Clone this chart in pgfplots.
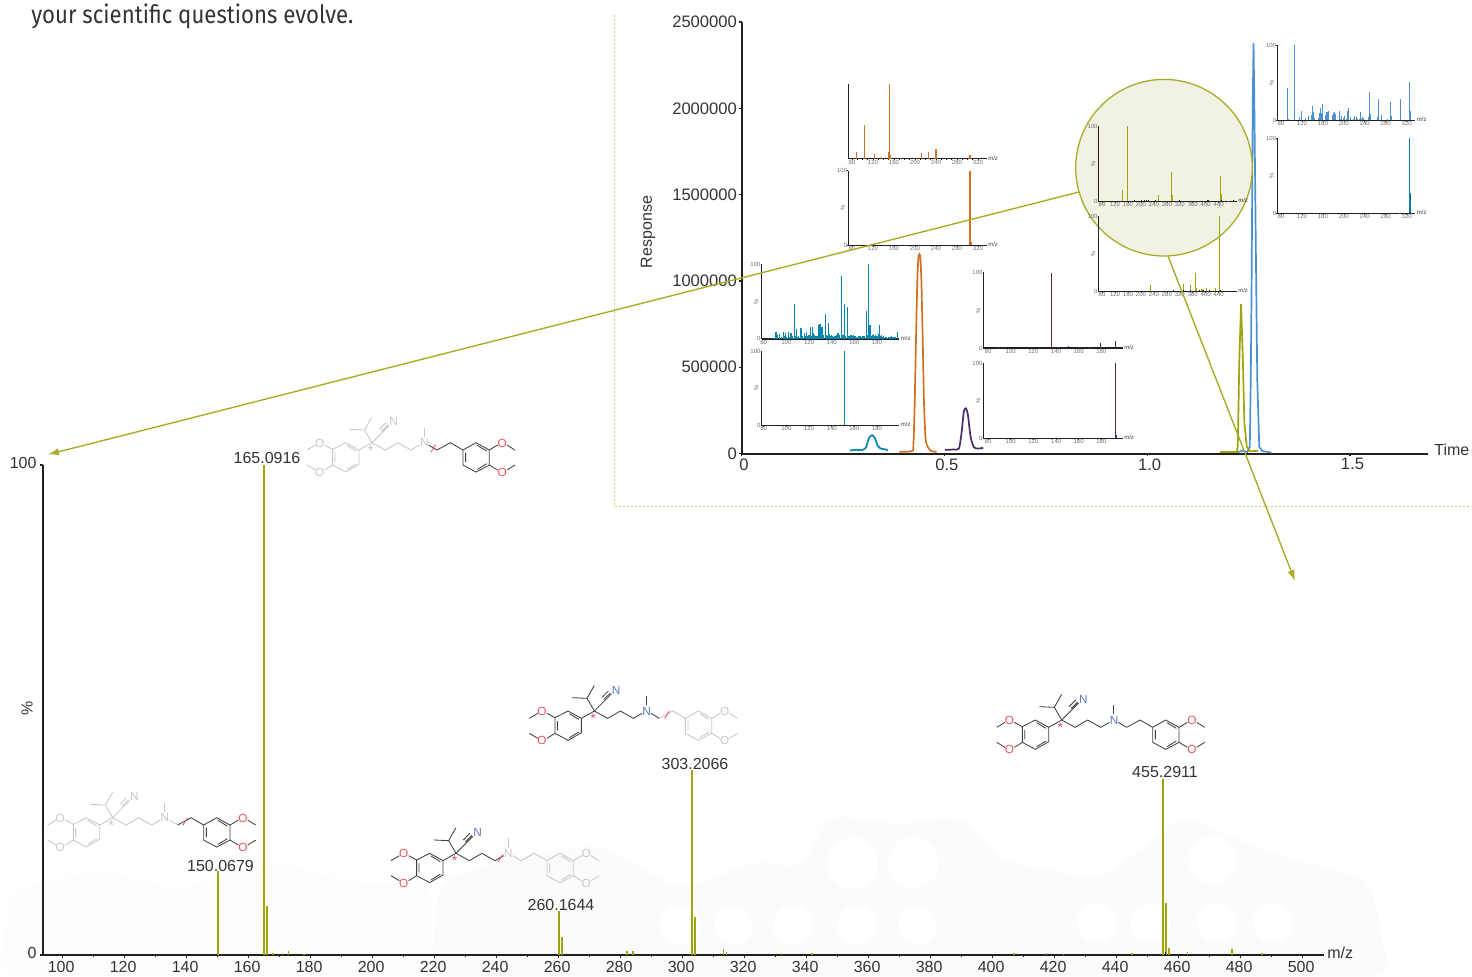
\documentclass[border=0pt]{standalone}
\usepackage{fontspec}
\setmainfont{Liberation Sans}
\newfontfamily\headfont{Fira Sans}
\usepackage{pgfplots}
\pgfplotsset{compat=1.18}
\usetikzlibrary{arrows.meta}
\definecolor{dk}{HTML}{3F3F3F}
\definecolor{gr}{HTML}{C6C6C6}
\definecolor{molred}{HTML}{F0505A}
\definecolor{molblue}{HTML}{5F78C0}
\definecolor{axc}{HTML}{231F20}
\definecolor{txt}{HTML}{333333}
\definecolor{olive}{HTML}{9EA40A}
\definecolor{oliveL}{HTML}{A8AD28}
\definecolor{orng}{HTML}{CF7120}
\definecolor{teal}{HTML}{0587AD}
\definecolor{purp}{HTML}{4B2B68}
\definecolor{blu}{HTML}{4A90D2}
\definecolor{tealb}{HTML}{0A7AA6}
\definecolor{insl}{HTML}{6F6F6F}
\definecolor{circf}{HTML}{F1F2E3}
\definecolor{wmL}{HTML}{FDFDFB}
\definecolor{wmR}{HTML}{FAFBFD}

\pgfplotsset{
 ins/.style={scale only axis, axis lines=left, axis line style={-,axc,line width=.55pt},
  clip=false, ymin=0,ymax=100, ytick={0,100},
  tick style={axc,line width=.3pt}, major tick length=.6pt, minor tick length=.5pt,
  tick align=outside,
  tick label style={font=\fontsize{3}{3}\selectfont,text=insl,inner sep=.3pt},
  xticklabel style={yshift=.5pt}, yticklabel style={xshift=.5pt},
  /pgf/number format/assume math mode=true, /pgf/number format/1000 sep={}},
 s40/.style={xtick={80,120,...,320},minor x tick num=3},
 s20/.style={xtick={80,100,...,180},minor x tick num=3},
 s40o/.style={xtick={80,120,...,440},minor x tick num=0},
}
\newcommand{\pct}{\node[anchor=south,rotate=90,font=\fontsize{3}{3}\selectfont,text=insl,inner sep=0pt,yshift=1.5pt] at (rel axis cs:0,0.5) {\%};}
\newcommand{\inset}[8]{%
 \pgfmathsetmacro{\insw}{(#2-#1)*0.5}\pgfmathsetmacro{\insh}{(#3-#4)*0.5}%
 \pgfmathsetmacro{\insx}{#1*0.5}\pgfmathsetmacro{\insy}{-#3*0.5}%
 \begin{axis}[ins,at={(\insx pt,\insy pt)},anchor=south west,width=\insw pt,height=\insh pt,xmin=#5,xmax=#6,#7]
 #8
 \node[anchor=west,font=\fontsize{3}{3}\selectfont,text=dk,inner sep=.6pt] at (rel axis cs:1,0.01) {m/z};
 \end{axis}}
\newcommand{\bars}[2]{\addplot[ycomb,color=#1,line width=.6pt,no marks] coordinates {#2};}
\newcommand{\barsk}[1]{\addplot[ycomb,color=axc,line width=.5pt,no marks] coordinates {#1};}

\newcommand\setgrp[2]{\ifnum#2=1 \colorlet{#1b}{dk}\colorlet{#1h}{molred}\colorlet{#1n}{molblue}\else \colorlet{#1b}{gr}\colorlet{#1h}{gr}\colorlet{#1n}{gr}\fi}
\newcommand\mol[9]{%
 \setgrp{A}{#3}\setgrp{B}{#4}\setgrp{C}{#5}\setgrp{E}{#6}\setgrp{D}{#7}%
 \begin{scope}[shift={(#1*0.5pt,-#2*0.5pt)},x=0.16667pt,y=-0.16667pt,line width=.42pt,
   lab/.style={font=\fontsize{5.9}{6}\selectfont,inner sep=0pt}]
 \draw[Ab] (127,140)--(166,120)--(206,142)--(206,185)--(166,208)--(127,187)--cycle;
 \draw[Ab] (134,150)--(134,178) (170,128)--(198,145) (170,200)--(198,183);
 \draw[Ab] (127,140)--(103,127) (75,127)--(50,142) (127,187)--(103,202) (75,202)--(50,187);
 \node[lab,text=Ah] at (88,121) {O}; \node[lab,text=Ah] at (88,209) {O};
 \draw[Ab] (206,142)--(245,120)--(223,82)--(178,80) (223,82)--(245,43);
 \draw[Ab] (245,120)--(296,69) (273,86)--(293,66) (267,80)--(287,60);
 \node[lab,text=An] at (310,57) {N};
 \node[lab,text=Ah,font=\fontsize{7}{7}\selectfont] at (241,143) {*};
 \draw[Bb] (245,120)--(285,142)--(323,120)--(362,142)--(388,127);
 \node[lab,text=Cn] at (402,120) {N};
 \draw[Cb] (401,103)--(401,75);
 \draw[Eb] (415,127)--(440,142);
 \draw[Db] (440,142)--(480,120)--(518,142);
 \draw[Db] (518,142)--(557,120)--(597,142)--(597,187)--(557,208)--(518,187)--cycle;
 \draw[Db] (526,150)--(526,178) (561,128)--(589,145) (561,200)--(589,183);
 \draw[Db] (597,142)--(622,127) (650,127)--(674,142) (597,187)--(622,202) (650,202)--(674,187);
 \node[lab,text=Dh] at (636,121) {O}; \node[lab,text=Dh] at (636,209) {O};
 \ifnum#8>0 \draw[molred] (#8-7,#9+11)--(#8+7,#9-11);\fi
 \end{scope}}

\begin{document}
\begin{tikzpicture}
\path[use as bounding box] (0,0) rectangle (736pt,-488pt);

% faint watermark
\begin{scope}[x=0.5pt,y=-0.5pt]
 \fill[rounded corners=8pt,color=wmL] (0,976)--(10,890)--(100,870)--(180,890)--(270,860)--(360,885)--(430,880)--(430,976)--cycle;
 \fill[rounded corners=8pt,color=wmR] (430,976)--(440,880)--(520,855)--(600,845)--(680,890)--(760,860)--(800,870)--(830,815)--(900,825)--(960,815)--(1000,860)--(1100,880)--(1185,815)--(1260,850)--(1370,880)--(1390,976)--cycle;
 \fill[white] (853,863) circle (26) (913,863) circle (26) (680,925) circle (20) (733,925) circle (20) (793,925) circle (20) (857,925) circle (20) (917,925) circle (20) (1097,923) circle (20) (1150,923) circle (20) (1217,923) circle (20) (1273,923) circle (20) (1213,860) circle (24);
 \draw[color=oliveL!60!white,line width=.5pt,dash pattern=on 1pt off 1pt] (614,15)--(614,506)--(1470,506);
 \node[anchor=base west,inner sep=0pt,text=txt,xscale=.88,font=\headfont\fontsize{12.6}{13}\selectfont] at (31,23) {your scientific questions evolve.};
 \node[anchor=west,inner sep=0pt,text=txt,font=\fontsize{8}{9}\selectfont] at (1434,450) {Time};
 \node[rotate=90,inner sep=0pt,text=txt,font=\fontsize{8}{9}\selectfont] at (648,232) {Response};
 \node[anchor=west,inner sep=0pt,text=txt,font=\fontsize{8}{9}\selectfont] at (1327,953) {m/z};
 \node[rotate=90,inner sep=0pt,text=txt,font=\fontsize{8}{9}\selectfont] at (27,708) {\%};
 \node[inner sep=0pt,text=txt,font=\fontsize{8}{9}\selectfont] at (267,458) {165.0916};
 \node[inner sep=0pt,text=txt,font=\fontsize{8}{9}\selectfont] at (220.5,866) {150.0679};
 \node[inner sep=0pt,text=txt,font=\fontsize{8}{9}\selectfont] at (561,905) {260.1644};
 \node[inner sep=0pt,text=txt,font=\fontsize{8}{9}\selectfont] at (695,764) {303.2066};
 \node[inner sep=0pt,text=txt,font=\fontsize{8}{9}\selectfont] at (1165,772) {455.2911};
\end{scope}

% chromatogram
\begin{axis}[scale only axis,at={(370.85pt,-226.75pt)},anchor=south west,width=343.3pt,height=215.75pt,
 xmin=0,xmax=1.693,ymin=0,ymax=2500000,axis lines=left,axis line style={-,axc,line width=1pt},clip=false,
 scaled y ticks=false,
 xtick={0,0.5,1,1.5},xticklabels={0,0.5,1.0,1.5},
 ytick={0,500000,1000000,1500000,2000000,2500000},yticklabels={0,500000,1000000,1500000,2000000,2500000},
 tick style={axc,line width=.6pt},major tick length=1.4pt,tick align=outside,
 tick label style={font=\fontsize{8.3}{9}\selectfont,text=txt,inner sep=0pt},
 xticklabel style={yshift=-.9pt,xshift=1.2pt},yticklabel style={xshift=-.8pt},
 /pgf/number format/assume math mode=true]
 \addplot[color=teal,line width=.85pt,smooth,tension=.4,no marks] coordinates {(.2666,17400)(.283,21400)(.2953,19300)(.3059,32800)(.314,90800)(.3214,106000)(.328,90800)(.3362,42200)(.3445,27200)(.3568,23100)(.360,15600)};
 \addplot[color=orng,line width=.85pt,smooth,tension=.4,no marks] coordinates {(.3889,9600)(.4192,13500)(.4233,42400)(.4266,293000)(.4299,679000)(.4331,1007000)(.4356,1132000)(.4381,1155000)(.4405,1132000)(.443,1007000)(.4462,679000)(.4495,293000)(.4536,81000)(.4602,32800)(.4684,13500)(.4807,9600)};
 \addplot[color=purp,line width=.85pt,smooth,tension=.4,no marks] coordinates {(.5011,21200)(.5217,23100)(.5356,28900)(.5421,119600)(.5478,245000)(.5528,262000)(.5577,225700)(.5642,100000)(.5724,36600)(.5831,28900)(.5954,32800)};
 \addplot[color=blu,line width=.85pt,no marks] coordinates {(1.2219,5800)(1.2343,17400)(1.2466,8700)(1.2528,37700)(1.2552,426000)(1.2572,947000)(1.2602,2048000)(1.2621,2378000)(1.2639,2048000)(1.2688,947000)(1.2713,426000)(1.2762,37700)(1.2836,14500)(1.3058,5800)};
 \addplot[color=olive,line width=.85pt,no marks] coordinates {(1.1796,8700)(1.2207,8700)(1.2232,39400)(1.2272,561000)(1.2313,866000)(1.2355,561000)(1.2395,175000)(1.2454,39400)(1.2535,12700)(1.274,16200)};
\end{axis}

% circle
\begin{scope}[x=0.5pt,y=-0.5pt]
 \filldraw[draw=oliveL,fill=circf,line width=.65pt] (1164,167.7) circle (88.3);
\end{scope}

% insets
\inset{848.3}{986.7}{158.7}{84}{73}{336.6}{s40,ytick=\empty}{\bars{orng}{(88.2,8.9)(103.4,45)(122.4,6.2)(135.7,1.8)(149,9)(150.9,100)(152.8,4.9)(211.7,7.1)(225,8.9)(240.2,13)(304.8,4.9)}}
\inset{848.3}{986.7}{245.3}{170.7}{73}{336.6}{s40}{\bars{orng}{(304.8,100)(306.7,4)}\pct}

\inset{761.7}{899.3}{338.7}{264}{78.2}{199.7}{s20,x axis line style={-,axc,line width=1pt}}{\bars{teal}{(84,1)(88,1)(90,1)(90.9,8.5)(92.4,4.9)(93.8,6.2)(95,1)(96,2)(97.4,9.4)(98,3)(99.4,7.1)(100,2)(101,1)(101.8,9.4)(103,2)(104.1,7.1)(105,3)(106,1)(107.1,47)(108,3)(109.1,12.5)(110,2)(111,4)(112.9,13.8)(114,3)(115.9,7.1)(116.5,4)(117.2,2)(117.9,9.4)(119,4)(120,5)(121.5,15.6)(122,4)(123.2,15.2)(124,7)(125,5)(126,4)(127,3)(128.5,18.3)(129.7,19.6)(130.5,6)(131.5,16)(132.5,5)(133,4)(134.4,33)(135.5,5)(136.2,3)(137.1,20.5)(138,6)(139,4)(140,4.9)(141,3)(142,2)(143,3)(144,5)(145.6,7.1)(146.3,6)(147,5)(148.5,84)(149.5,4)(150,5)(151.2,46)(152,4)(153.8,42)(155,4)(156,3)(157,5)(158,3)(159.4,4.9)(160.3,4)(161,3)(162,2)(164,3)(165,3)(166,2)(167,3)(168,4)(169,3)(170.6,37)(171.4,5)(172.4,100)(173.8,18)(175,3)(176,5)(177,6)(178,3)(179,5)(180,4)(181,6)(182.1,18)(183,3)(184,5)(185,2)(186,3)(188,2)(189,1)(190,2)(191,2)(192,2)(193,3)(194,2)(195,2)(196,2)(197.9,8.5)}\pct}
\inset{761.7}{899.3}{425.3}{351}{78.2}{199.7}{s20}{\bars{teal}{(151.2,100)}\pct}

\inset{983.7}{1122.7}{348}{272.7}{76.2}{198.9}{s20}{\bars{purp}{(89.7,1.5)(92.6,1)(120,.5)(125.3,.8)(135.9,100)(141.2,1)(143,1)(147,1.5)(150.9,2.5)(170,1)(179.1,7)(182.6,1)(192.4,9.5)}\pct}
\inset{983.7}{1122.7}{438.3}{363.3}{76.2}{198.9}{s20}{\bars{purp}{(192.4,100)(193.3,4)}\pct}

\inset{1098.7}{1236.7}{201.3}{126}{69.7}{495.6}{s40o}{\bars{olive}{(142.8,15)(158.2,100)(253.9,8.4)(294,39)(297,8.4)(445.2,33)(448,9.7)(470,1)}\barsk{(179.8,1.5)(201.4,1.5)(209.6,1.5)(216.8,1.5)(223,1.5)(244.6,1.5)(318.7,1.5)(405,1.5)(408,1.5)(449,1.5)(485.4,1.5)}\pct}
\inset{1098.7}{1236.7}{291.3}{216}{69.7}{495.6}{s40o}{\bars{olive}{(229.2,8)(331,9.5)(352.6,8)(368,24)(371,4)(388.6,2.5)(402,5)(429.8,5)(442.1,100)}\barsk{(300,1.5)(331,1.5)(354.5,1.5)(382,1.5)(392,1.5)(411,1.5)(445,1.5)}\pct}

\inset{1277.3}{1415.3}{120.3}{45}{73}{336.5}{s40}{\bars{blu}{(92.1,43)(94,2)(105.5,100)(115,4.5)(118.8,12.5)(126.5,3)(132.2,6)(138,6.7)(139.8,19)(141.7,11)(143.6,3)(151.3,3)(153.2,9.4)(155,16.5)(157,10)(159,22)(164.7,7)(166.6,10.7)(168.5,10.7)(170.4,12.5)(178,7)(180,9.4)(181.8,10.7)(183.8,8.5)(191.4,12.5)(193.3,1.3)(195.9,6)(199.7,3)(201.6,6)(205.4,1.3)(207.3,12.5)(209.2,16.5)(213,4.5)(218.8,1.8)(220.7,6)(223.9,4.5)(225.8,1.8)(230.2,1.8)(232.1,11)(234,1.8)(236,4.5)(237.9,3)(247.4,4.5)(248.7,38)(250.6,8.5)(264.6,4.5)(266.5,28.6)(272.2,7)(283.7,1.3)(288.8,24.6)(290.7,6)(307.9,28.6)(325,51)(327,12.5)}\pct}
\inset{1277.3}{1415.3}{213.3}{138.3}{73}{336.5}{s40}{\bars{tealb}{(307,.6)(325,100)(327,27)}\pct}

% main spectrum
\begin{axis}[scale only axis,at={(21.65pt,-477.35pt)},anchor=south west,width=640.35pt,height=245pt,
 xmin=93.87,xmax=507,ymin=0,ymax=100,axis lines=left,axis line style={-,axc,line width=1pt},clip=false,
 xtick={100,120,...,500},minor x tick num=1,ytick={0,100},
 xtick style={axc,line width=.35pt},minor x tick style={axc,line width=.35pt},ytick style={axc,line width=1pt},
 major tick length=1.6pt,minor tick length=1.3pt,tick align=outside,
 tick label style={font=\fontsize{8}{9}\selectfont,text=txt,inner sep=0pt},
 xticklabel style={yshift=-1.4pt,xshift=-.6pt},yticklabel style={xshift=-1.6pt,yshift=.8pt},
 /pgf/number format/assume math mode=true,/pgf/number format/1000 sep={}]
 \addplot[ycomb,color=olive,line width=1pt,no marks] coordinates {(150.07,17)(165.09,100)(166.1,10)(260.16,9)(261.17,3.7)(303.21,37.6)(304.21,7.6)(455.1,35.9)(456.1,10.6)(457.1,1.4)};
 \addplot[ycomb,color=olive,line width=.7pt,no marks] coordinates {(168,.3)(171,.3)(173,.8)(178,.2)(282.1,.8)(284.1,.8)(313.2,1.2)(314.2,.5)(332,.3)(341.8,.3)(407,.3)(417.5,.3)(423,.2)(445,.3)(463,.5)(477.3,1.2)(487,.3)};
 \addplot[ycomb,color=axc,line width=.5pt,no marks] coordinates {(134,.2)(146,.2)(257,.2)(281,.2)(455.8,.6)};
\end{axis}

% molecules
\mol{980}{680}{1}{1}{1}{1}{1}{0}{0}
\mol{512.7}{671}{1}{1}{1}{1}{0}{463}{131}
\mol{374.3}{813.3}{1}{1}{0}{0}{0}{378}{135}
\mol{31}{777.7}{0}{0}{0}{0}{1}{462}{132}
\mol{290.3}{402.7}{0}{0}{0}{1}{1}{429}{137}

% connector arrows
\begin{scope}[x=0.5pt,y=-0.5pt]
 \draw[color=oliveL,line width=.7pt,-{Latex[length=5.5pt,width=3.6pt]}] (1079,192)--(48,454.5);
 \draw[color=oliveL,line width=.7pt,-{Latex[length=5.5pt,width=3.6pt]}] (1168,256)--(1295,581);
\end{scope}
\end{tikzpicture}
\end{document}
